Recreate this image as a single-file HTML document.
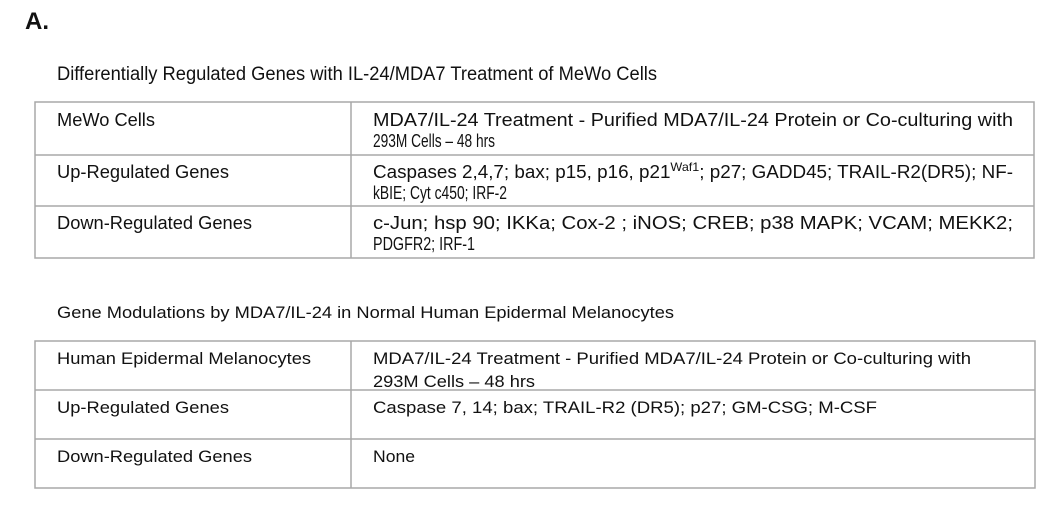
<!DOCTYPE html>
<html><head><meta charset="utf-8"><style>
html,body{margin:0;padding:0;background:#fff;width:1050px;height:506px;overflow:hidden}
svg{display:block;font-family:"Liberation Sans",Arial,sans-serif;fill:#111}
line,rect{stroke:#a8a8a8;stroke-width:1.5;fill:none}
</style></head><body>
<svg width="1050" height="506" viewBox="0 0 1050 506">
<text x="25" y="29" font-size="24" font-weight="bold">A.</text>

<text x="57" y="80" font-size="19" textLength="600" lengthAdjust="spacingAndGlyphs">Differentially Regulated Genes with IL-24/MDA7 Treatment of MeWo Cells</text>
<g>
<rect x="35" y="102" width="999" height="156"/>
<line x1="351" y1="102" x2="351" y2="258"/>
<line x1="35" y1="155" x2="1034" y2="155"/>
<line x1="35" y1="206" x2="1034" y2="206"/>
<g font-size="18">
<text x="57" y="126" textLength="98" lengthAdjust="spacingAndGlyphs">MeWo Cells</text>
<text x="57" y="178" textLength="172" lengthAdjust="spacingAndGlyphs">Up-Regulated Genes</text>
<text x="57" y="229" textLength="195" lengthAdjust="spacingAndGlyphs">Down-Regulated Genes</text>
<text x="373" y="126" textLength="640" lengthAdjust="spacingAndGlyphs">MDA7/IL-24 Treatment -  Purified MDA7/IL-24 Protein or Co-culturing with</text>
<text x="373" y="147" textLength="122" lengthAdjust="spacingAndGlyphs">293M Cells – 48 hrs</text>
<text x="373" y="178" textLength="640" lengthAdjust="spacingAndGlyphs">Caspases 2,4,7; bax; p15, p16, p21<tspan font-size="12" dy="-7">Waf1</tspan><tspan dy="7">; p27; GADD45; TRAIL-R2(DR5); NF-</tspan></text>
<text x="373" y="199" textLength="134" lengthAdjust="spacingAndGlyphs">kBIE; Cyt c450; IRF-2</text>
<text x="373" y="229" textLength="640" lengthAdjust="spacingAndGlyphs">c-Jun; hsp 90; IKKa; Cox-2 ; iNOS; CREB; p38 MAPK; VCAM; MEKK2;</text>
<text x="373" y="250" textLength="102" lengthAdjust="spacingAndGlyphs">PDGFR2; IRF-1</text>
</g></g>

<text x="57" y="318" font-size="17" textLength="617" lengthAdjust="spacingAndGlyphs">Gene Modulations by MDA7/IL-24 in Normal Human Epidermal Melanocytes</text>
<g>
<rect x="35" y="341" width="1000" height="147"/>
<line x1="351" y1="341" x2="351" y2="488"/>
<line x1="35" y1="390" x2="1035" y2="390"/>
<line x1="35" y1="439" x2="1035" y2="439"/>
<g font-size="17">
<text x="57" y="364" textLength="254" lengthAdjust="spacingAndGlyphs">Human Epidermal Melanocytes</text>
<text x="57" y="413" textLength="172" lengthAdjust="spacingAndGlyphs">Up-Regulated Genes</text>
<text x="57" y="462" textLength="195" lengthAdjust="spacingAndGlyphs">Down-Regulated Genes</text>
<text x="373" y="364" textLength="598" lengthAdjust="spacingAndGlyphs">MDA7/IL-24 Treatment -  Purified MDA7/IL-24 Protein or Co-culturing with</text>
<text x="373" y="387" textLength="162" lengthAdjust="spacingAndGlyphs">293M Cells – 48 hrs</text>
<text x="373" y="413" textLength="504" lengthAdjust="spacingAndGlyphs">Caspase 7, 14; bax; TRAIL-R2 (DR5); p27; GM-CSG; M-CSF</text>
<text x="373" y="462" textLength="42" lengthAdjust="spacingAndGlyphs">None</text>
</g></g>
</svg>
</body></html>
